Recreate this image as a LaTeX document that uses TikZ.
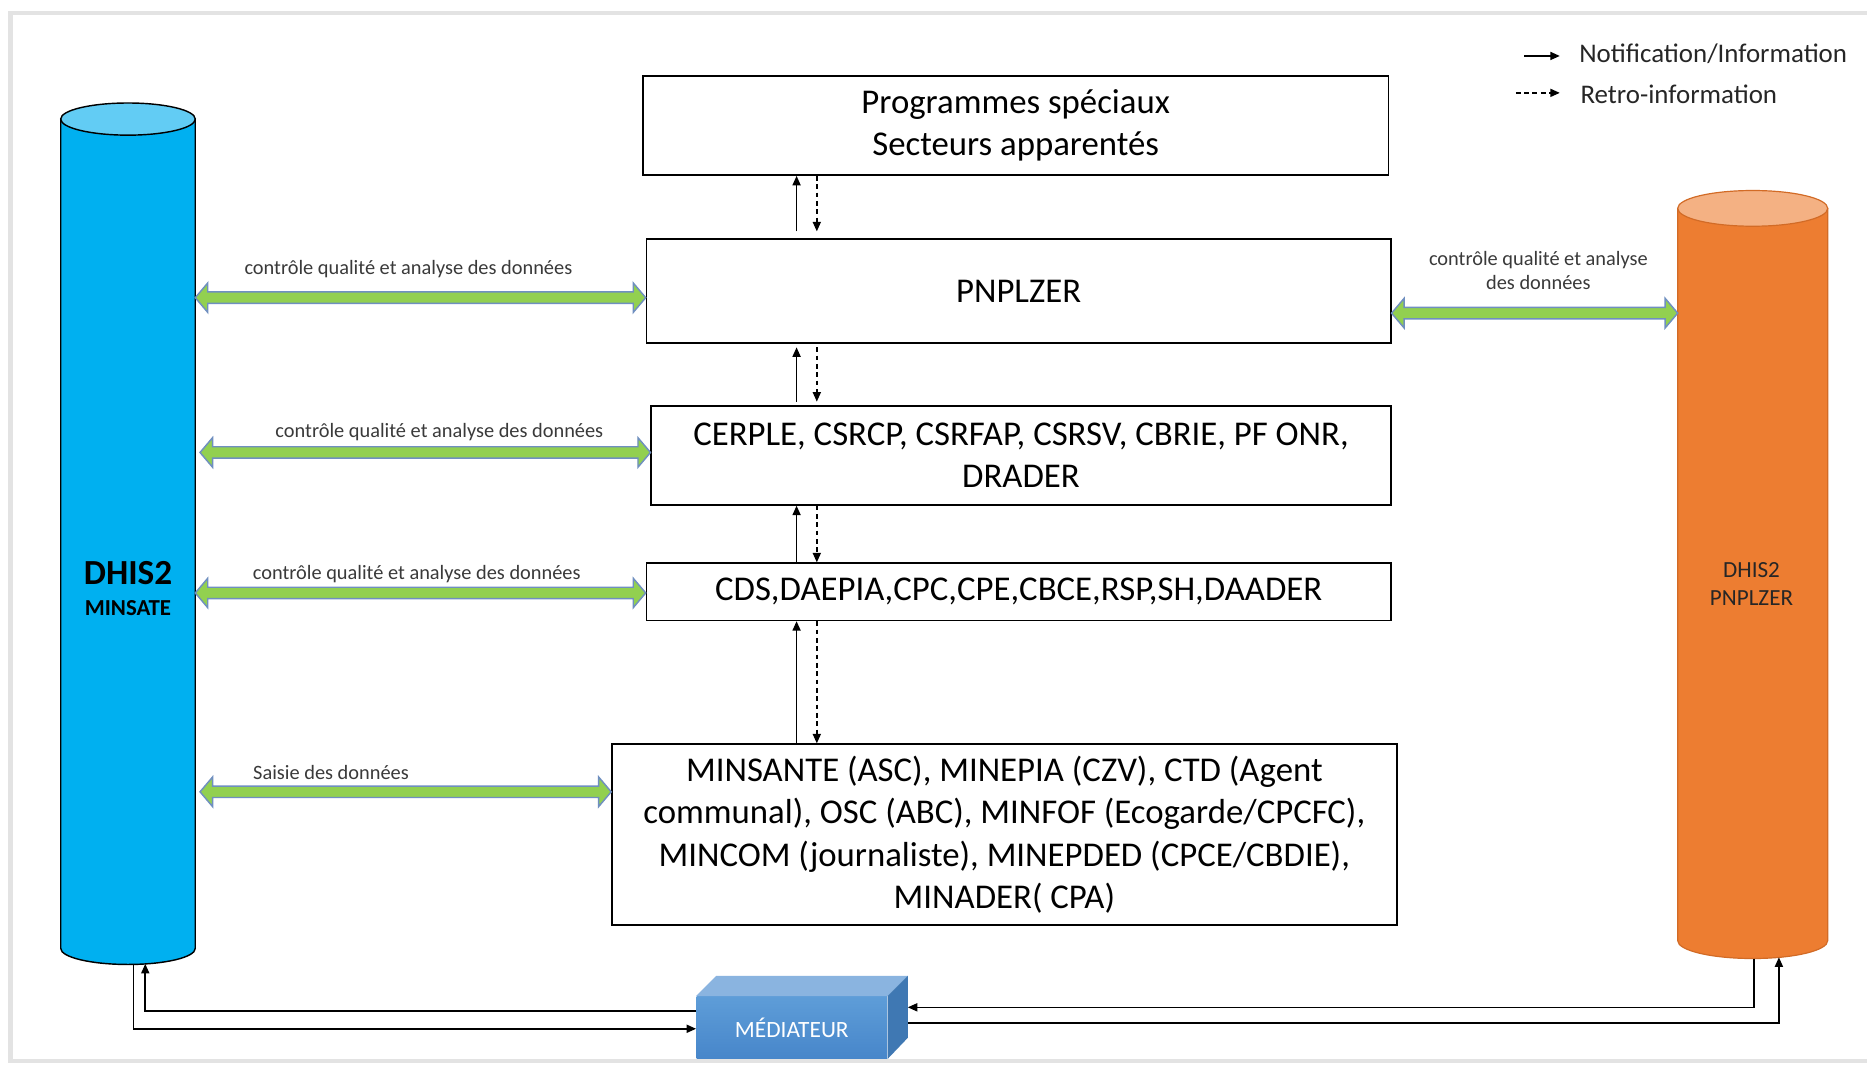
\documentclass[tikz,border=0pt]{standalone}
\usepackage{fontspec}
\setmainfont{Carlito}
\usetikzlibrary{arrows.meta,calc}
\definecolor{greenfill}{HTML}{92D050}
\definecolor{greenedge}{HTML}{6F8FC0}
\definecolor{dhisblue}{HTML}{00B0F0}
\definecolor{dhistop}{HTML}{62CCF4}
\definecolor{orangebody}{HTML}{ED7D31}
\definecolor{orangetop}{HTML}{F4B183}
\definecolor{orangeedge}{HTML}{D26B26}
\definecolor{medtopc}{HTML}{8AB4E0}
\definecolor{medsidec}{HTML}{3F78B3}
\definecolor{medhi}{HTML}{5E9DD8}
\definecolor{medlo}{HTML}{4786CA}
\definecolor{framegray}{HTML}{E3E3E3}
\definecolor{lbltext}{HTML}{3A3A3A}
\tikzset{
  box/.style={draw=black, line width=0.7pt, fill=white, align=center, inner sep=0pt,
    font=\fontsize{14.6}{17.8}\selectfont},
  conn/.style={line width=0.65pt, -{Triangle[length=4pt,width=3.4pt]}},
  retro/.style={conn, dash pattern=on 2pt off 1.5pt},
  lbl/.style={font=\fontsize{8.55}{10}\selectfont, text=lbltext, inner sep=0pt, align=center},
  legend/.style={font=\fontsize{11.3}{12}\selectfont, text=black!85, inner sep=0pt, anchor=west},
  garrow/.style={fill=greenfill, draw=greenedge, line width=0.6pt, line join=miter},
}
\newcommand\greenlink[2]{%
  \path[garrow] let \p1=(#1), \p2=(#2) in
    (\x1,\y1) -- (\x1+5.25pt,\y1+6.2pt) -- (\x1+5.25pt,\y1+2.4pt) -- (\x2-5.25pt,\y1+2.4pt)
    -- (\x2-5.25pt,\y1+6.2pt) -- (\x2,\y1) -- (\x2-5.25pt,\y1-6.2pt) -- (\x2-5.25pt,\y1-2.4pt)
    -- (\x1+5.25pt,\y1-2.4pt) -- (\x1+5.25pt,\y1-6.2pt) -- cycle;}
\begin{document}
\begin{tikzpicture}[x=0.5pt,y=-0.5pt]
\useasboundingbox (0,0) rectangle (1568,894);
\fill[white] (0,0) rectangle (1568,894);
% frame
\draw[framegray, line width=2pt] (1580,11) -- (9,11) -- (9,891) -- (1580,891);

% boxes
\node[box, minimum width=313pt, minimum height=41.5pt] (B1) at (853,105.5)
  {Programmes spéciaux\\Secteurs apparentés};
\node[box, minimum width=312.5pt, minimum height=43.5pt] (B2) at (855.5,244.5) {PNPLZER};
\node[box, minimum width=310.5pt, minimum height=41.5pt] (B3) at (857.5,382.5)
  {CERPLE, CSRCP, CSRFAP, CSRSV, CBRIE, PF ONR,\\DRADER};
\node[box, minimum width=312.5pt, minimum height=24pt] (B4) at (855.5,497)
  {CDS,DAEPIA,CPC,CPE,CBCE,RSP,SH,DAADER};
\node[box, minimum width=329.5pt, minimum height=76pt] (B5) at (843.5,701)
  {MINSANTE (ASC), MINEPIA (CZV), CTD (Agent\\communal), OSC (ABC), MINFOF (Ecogarde/CPCFC),\\MINCOM (journaliste), MINEPDED (CPCE/CBDIE),\\MINADER( CPA)};

% vertical connectors
\coordinate (vs) at (669,0);
\coordinate (vd) at (686,0);
\draw[conn] ($(vs |- B2.north)+(0,-6)$) -- (vs |- B1.south);
\draw[retro] (vd |- B1.south) -- ($(vd |- B2.north)+(0,-6)$);
\draw[conn] ($(vs |- B3.north)+(0,-3)$) -- ($(vs |- B2.south)+(0,3)$);
\draw[retro] ($(vd |- B2.south)+(0,3)$) -- ($(vd |- B3.north)+(0,-3)$);
\draw[conn] (vs |- B4.north) -- (vs |- B3.south);
\draw[retro] (vd |- B3.south) -- (vd |- B4.north);
\draw[conn] (vs |- B5.north) -- (vs |- B4.south);
\draw[retro] (vd |- B4.south) -- (vd |- B5.north);

% left cylinder
\filldraw[fill=dhisblue, draw=black, line width=0.6pt]
  (51,100) -- (51,796.5) arc[start angle=180, end angle=360, x radius=28.25pt, y radius=6.75pt]
  -- (164,100) -- cycle;
\filldraw[fill=dhistop, draw=black, line width=0.6pt] (107.5,100) ellipse [x radius=28.25pt, y radius=6.75pt];
\node[font=\bfseries\fontsize{14.8}{16}\selectfont, inner sep=0pt] (Ldhis) at (107.5,481) {DHIS2};
\node[font=\bfseries\fontsize{9.6}{11}\selectfont, inner sep=0pt] (Lmin) at (107.5,511) {MINSATE};
\coordinate (Lb1) at (112,810);
\coordinate (Lb2) at (122,809.5);

% right cylinder
\filldraw[fill=orangebody, draw=orangeedge, line width=0.5pt]
  (1409,175) -- (1409,790) arc[start angle=180, end angle=360, x radius=31.5pt, y radius=7.5pt]
  -- (1535,175) -- cycle;
\filldraw[fill=orangetop, draw=orangeedge, line width=0.5pt] (1472,175) ellipse [x radius=31.5pt, y radius=7.5pt];
\node[font=\fontsize{9.7}{11}\selectfont, text=black!85, inner sep=0pt] (Rdhis) at (1471,479) {DHIS2};
\node[font=\fontsize{9.7}{11}\selectfont, text=black!85, inner sep=0pt] (Rpn) at (1471,502) {PNPLZER};
\coordinate (Rb1) at (1473,805);
\coordinate (Rb2) at (1494,804);
\coordinate (RcylW) at (1409,263);

% green double arrows and labels
\coordinate (a1L) at (164,250);
\greenlink{a1L}{B2.west |- a1L}
\node[lbl] (t1) at (343,226) {contrôle qualité et analyse des données};
\coordinate (a2L) at (168,380);
\greenlink{a2L}{B3.west |- a2L}
\node[lbl] (t2) at (369,363) {contrôle qualité et analyse des données};
\coordinate (a3L) at (164,498);
\greenlink{a3L}{B4.west |- a3L}
\node[lbl] (t3) at (350,482) {contrôle qualité et analyse des données};
\coordinate (a4L) at (168,665);
\greenlink{a4L}{B5.west |- a4L}
\node[lbl] (t4) at (278,649) {Saisie des données};
\greenlink{B2.east |- RcylW}{RcylW}
\node[lbl] (t5) at (1292,227) {contrôle qualité et analyse\\des données};

% legend
\coordinate (lg1a) at (1280,47);
\coordinate (lg1b) at (1310,47);
\coordinate (lg2a) at (1273,78);
\coordinate (lg2b) at (1310,78);
\draw[conn] (lg1a) -- (lg1b);
\draw[retro] (lg2a) -- (lg2b);
\node[legend] (lgt1) at (1326,45) {Notification/Information};
\node[legend] (lgt2) at (1327,79) {Retro-information};

% mediator
\node[minimum width=80pt, minimum height=26pt, inner sep=0pt, top color=medhi, bottom color=medlo,
  text=white, font=\fontsize{9.8}{11}\selectfont] (med) at (665,863) {MÉDIATEUR};
\fill[medtopc] (med.north west) -- ++(8.5pt,8.5pt) -- ($(med.north east)+(8.5pt,8.5pt)$) -- (med.north east) -- cycle;
\fill[medsidec] (med.north east) -- ++(8.5pt,8.5pt) -- ++(0pt,-26pt) -- (med.south east) -- cycle;
\coordinate (medR) at ($(med.east)+(8.5pt,0pt)$);

% mediator connectors
\coordinate (m1) at (0,849);
\coordinate (m2) at (0,864);
\coordinate (m3) at (0,846);
\coordinate (m4) at (0,859);
\draw[conn] (med.west |- m1) -| (Lb2);
\draw[conn] (Lb1) |- (med.west |- m2);
\draw[conn] (Rb1) |- (medR |- m3);
\draw[conn] (medR |- m4) -| (Rb2);
\end{tikzpicture}
\end{document}
